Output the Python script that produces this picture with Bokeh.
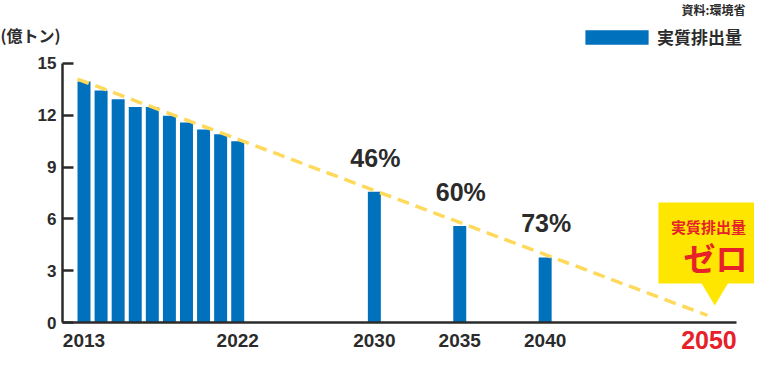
from bokeh.plotting import figure
from bokeh.models import (ColumnDataSource, Range1d, FixedTicker, Label, LabelSet,
                          Legend, LegendItem)
from bokeh.core.properties import value
from bokeh.embed import file_html
from bokeh.resources import INLINE

# ---- data ----
YEARS = [2013, 2014, 2015, 2016, 2017, 2018, 2019, 2020, 2021, 2022, 2030, 2035, 2040]
VALUES = [13.95, 13.44, 12.93, 12.48, 12.48, 11.97, 11.58, 11.18, 10.90, 10.50, 7.57, 5.59, 3.77]
TARGET_YEARS = [2030, 2035, 2040]
TARGET_VALUES = [7.57, 5.59, 3.77]
TARGET_LABELS = ["46%", "60%", "73%"]
TREND_YEARS = [2012.62, 2049.5]
TREND_VALUES = [14.1, 0.41]
X_TICKS = [2013, 2022, 2030, 2035, 2040]
Y_TICKS = [0, 3, 6, 9, 12, 15]
ZERO_YEAR = 2050
SERIES_NAME = "実質排出量"
ZERO_TEXT = "ゼロ"
UNIT_LABEL = "(億トン)"
SOURCE_LABEL = "資料:環境省"

BLUE = "#0071BC"
YELLOW_LINE = "#FFD95C"
CALLOUT_YELLOW = "#FFE600"
RED = "#E6212A"
DARK = "#2b2b2b"
JP = "Noto Sans CJK JP"
NUM = "Liberation Sans"

W, H = 754, 354
X0, X1 = 2008.111, 2052.257      # data span of the whole canvas
Y0, Y1 = -1.853, 18.648
AXIS_X = 2011.741                # where the value axis stands
AXIS_X_END = 2051.2

p = figure(width=W, height=H, output_backend="svg", toolbar_location=None,
           x_range=Range1d(X0, X1), y_range=Range1d(Y0, Y1),
           min_border_left=0, min_border_right=0, min_border_top=0, min_border_bottom=0,
           outline_line_color=None, background_fill_color="white")
p.xgrid.visible = False
p.ygrid.visible = False

# axes
xa = p.xaxis[0]
xa.fixed_location = 0
xa.ticker = FixedTicker(ticks=X_TICKS)
xa.bounds = (AXIS_X, AXIS_X_END)
xa.axis_line_width = 2.5
xa.axis_line_color = DARK
xa.major_tick_line_color = None
xa.minor_tick_line_color = None
xa.major_label_text_font = NUM
xa.major_label_text_font_style = "bold"
xa.major_label_text_font_size = "19px"
xa.major_label_text_color = DARK
xa.major_label_standoff = 5

ya = p.yaxis[0]
ya.fixed_location = AXIS_X
ya.ticker = FixedTicker(ticks=Y_TICKS)
ya.bounds = (0, 15)
ya.axis_line_width = 2.5
ya.axis_line_color = DARK
ya.major_tick_in = 11
ya.major_tick_out = 0
ya.major_tick_line_width = 2.5
ya.major_tick_line_color = DARK
ya.minor_tick_line_color = None
ya.major_label_text_font = NUM
ya.major_label_text_font_style = "bold"
ya.major_label_text_font_size = "17px"
ya.major_label_text_color = DARK
ya.major_label_standoff = 6

# bars
src = ColumnDataSource(dict(x=YEARS, top=VALUES))
bars = p.vbar(x="x", top="top", width=0.76, bottom=0, source=src,
              fill_color=BLUE, line_color=None)

# trend line
p.line(TREND_YEARS, TREND_VALUES, line_color=YELLOW_LINE, line_width=3.5, line_dash="12 7")

# percentage labels
lsrc = ColumnDataSource(dict(x=TARGET_YEARS, y=TARGET_VALUES, t=TARGET_LABELS))
p.add_layout(LabelSet(x="x", y="y", text="t", source=lsrc, y_offset=34, x_offset=1,
                      text_align="center", text_baseline="middle",
                      text_font=value(NUM), text_font_style="bold",
                      text_font_size="25px", text_color=DARK))

# callout (zero-emission bubble around 2050)
p.quad(left=ZERO_YEAR - 3.37, right=ZERO_YEAR + 3.5, bottom=2.26, top=6.95,
       fill_color=CALLOUT_YELLOW, line_color=None)
p.patch([ZERO_YEAR - 0.89, ZERO_YEAR + 0.75, ZERO_YEAR - 0.07],
        [2.35, 2.35, 0.98], fill_color=CALLOUT_YELLOW, line_color=None)
p.add_layout(Label(x=ZERO_YEAR - 0.44, y=5.56, text=SERIES_NAME, text_align="center",
                   text_baseline="middle", text_font=JP, text_font_style="bold",
                   text_font_size="15px", text_color=RED))
p.add_layout(Label(x=ZERO_YEAR - 0.03, y=3.82, text=ZERO_TEXT, text_align="center",
                   text_baseline="middle", text_font=JP, text_font_style="bold",
                   text_font_size="32px", text_color=RED))

# 2050 label (red, larger)
p.add_layout(Label(x=ZERO_YEAR, y=-1.04, x_offset=-7, text=str(ZERO_YEAR),
                   text_align="center", text_baseline="middle",
                   text_font=NUM, text_font_style="bold",
                   text_font_size="25px", text_color=RED))

# unit label and source
p.add_layout(Label(x=X0, y=16.67, text=UNIT_LABEL, text_align="left",
                   text_baseline="middle", text_font=JP, text_font_style="bold",
                   text_font_size="16px", text_color=DARK))
p.add_layout(Label(x=2051.73, y=Y1 - 0.05, text=SOURCE_LABEL, text_align="right",
                   text_baseline="top", text_font=JP, text_font_style="bold",
                   text_font_size="12px", text_color=DARK))

# legend (area legend glyphs are inset by 10% on each side)
legend = Legend(items=[LegendItem(label=SERIES_NAME, renderers=[bars])],
                location=(577, 305), orientation="vertical",
                glyph_width=79, glyph_height=18, label_standoff=1,
                label_text_font=JP, label_text_font_style="bold",
                label_text_font_size="17px", label_text_color=DARK,
                label_height=18, padding=0, margin=0, spacing=0,
                border_line_color=None, background_fill_alpha=0)
p.add_layout(legend)

open("out.html", "w").write(file_html(p, INLINE))
